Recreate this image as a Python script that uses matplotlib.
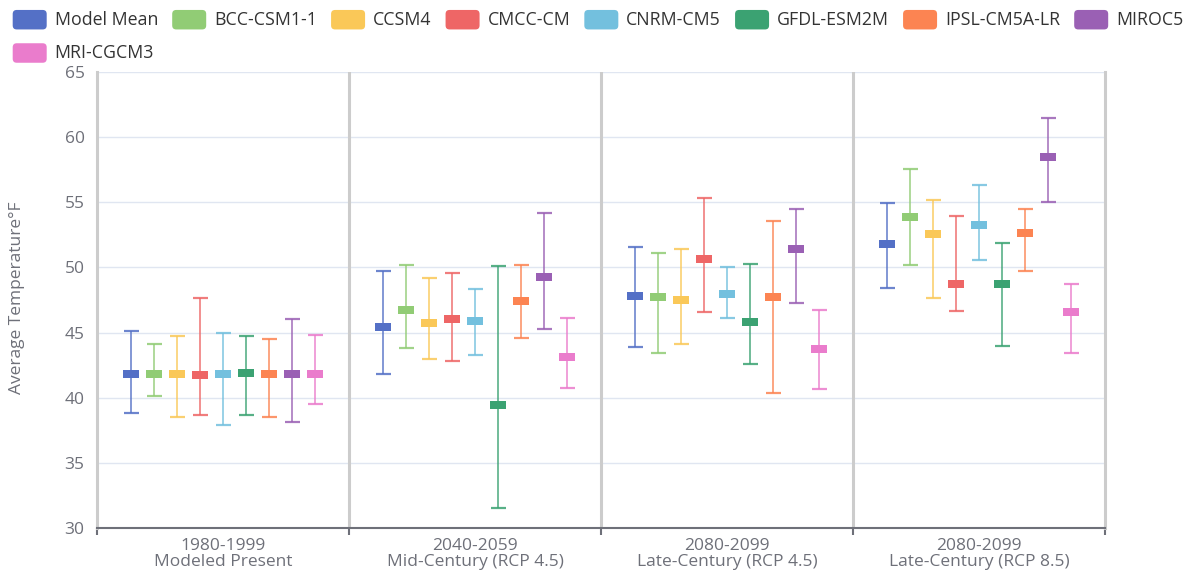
import matplotlib
matplotlib.use("Agg")
import matplotlib.pyplot as plt
import matplotlib.transforms as mtransforms
from matplotlib.patches import FancyBboxPatch
import numpy as np

# ---------------- data ----------------
models = ["Model Mean", "BCC-CSM1-1", "CCSM4", "CMCC-CM", "CNRM-CM5",
          "GFDL-ESM2M", "IPSL-CM5A-LR", "MIROC5", "MRI-CGCM3"]
colors = ["#5470c6", "#91cc75", "#fac858", "#ee6666", "#73c0de",
          "#3ba272", "#fc8452", "#9a60b4", "#ea7ccc"]
periods = ["1980-1999\nModeled Present", "2040-2059\nMid-Century (RCP 4.5)",
           "2080-2099\nLate-Century (RCP 4.5)", "2080-2099\nLate-Century (RCP 8.5)"]

mean_values = [
    [41.85, 45.45, 47.80, 51.80],
    [41.85, 46.75, 47.75, 53.90],
    [41.85, 45.75, 47.50, 52.55],
    [41.75, 46.05, 50.65, 48.70],
    [41.85, 45.90, 47.95, 53.25],
    [41.90, 39.45, 45.80, 48.70],
    [41.85, 47.40, 47.70, 52.65],
    [41.85, 49.25, 51.45, 58.45],
    [41.85, 43.15, 43.75, 46.60],
]
low_values = [
    [38.80, 41.85, 43.90, 48.40],
    [40.10, 43.85, 43.40, 50.15],
    [38.55, 42.95, 44.15, 47.65],
    [38.70, 42.80, 46.55, 46.65],
    [37.90, 43.30, 46.15, 50.55],
    [38.65, 31.55, 42.60, 43.95],
    [38.55, 44.60, 40.40, 49.70],
    [38.15, 45.30, 47.30, 55.05],
    [39.55, 40.75, 40.70, 43.45],
]
high_values = [
    [45.15, 49.75, 51.60, 54.95],
    [44.15, 50.20, 51.10, 57.55],
    [44.75, 49.20, 51.40, 55.20],
    [47.65, 49.60, 55.30, 53.95],
    [44.95, 48.35, 50.00, 56.35],
    [44.70, 50.10, 50.30, 51.85],
    [44.50, 50.20, 53.60, 54.45],
    [46.05, 54.20, 54.50, 61.50],
    [44.80, 46.10, 46.70, 48.70],
]
y_ticks = [30, 35, 40, 45, 50, 55, 60, 65]
y_label = "Average Temperature°F"

# ---------------- style ----------------
W, H = 1202, 578
FONT = ["Open Sans", "DejaVu Sans"]
plt.rcParams["font.family"] = FONT
TXT = "#6e7079"
FS = 12.5

fig = plt.figure(figsize=(W / 100, H / 100), dpi=100)
ax = fig.add_axes([97 / W, 50 / H, 1008 / W, 456 / H])

n = len(models)
step = 23 / 252
rect_marker = [(-1, -0.5), (1, -0.5), (1, 0.5), (-1, 0.5), (-1, -0.5)]
base = np.arange(len(periods))
for i, (name, c) in enumerate(zip(models, colors)):
    m = np.array(mean_values[i])
    lo = np.array(low_values[i])
    hi = np.array(high_values[i])
    x = base + (i - (n - 1) / 2) * step
    ax.errorbar(x, m, yerr=[m - lo, hi - m], fmt="none", ecolor=c,
                elinewidth=1.2, capsize=5.4, capthick=1.6, alpha=0.85, zorder=3)
    ax.plot(x, m, linestyle="none", marker=rect_marker, markersize=11,
            color=c, markeredgewidth=0, zorder=4)

ax.set_xlim(-0.5, len(periods) - 0.5)
ax.set_ylim(y_ticks[0], y_ticks[-1])
ax.set_yticks(y_ticks)
ax.tick_params(axis="y", length=0, pad=9, labelsize=FS, labelcolor=TXT)
ax.grid(axis="y", color="#e0e6f1", linewidth=1, zorder=0)
ax.set_axisbelow(True)

# group separators
for b in np.arange(len(periods) - 1) + 0.5:
    ax.axvline(b, color="#cccccc", linewidth=2.2, zorder=1)

ax.set_xticks(np.arange(len(periods) + 1) - 0.5)
ax.set_xticklabels([])
ax.tick_params(axis="x", which="major", length=5, width=1.5, color=TXT)
ax.set_xticks(base, minor=True)
ax.set_xticklabels(periods, minor=True, fontsize=FS, color=TXT, linespacing=1.0)
ax.tick_params(axis="x", which="minor", length=0, pad=7)

for s in ["left", "right"]:
    ax.spines[s].set_color("#cccccc")
    ax.spines[s].set_linewidth(2.2)
ax.spines["top"].set_visible(False)
ax.spines["bottom"].set_color(TXT)
ax.spines["bottom"].set_linewidth(1.5)

fig.text(17 / W, 1 - 298 / H, y_label, rotation=90, ha="center", va="center",
         fontsize=FS, color=TXT)

# ---------------- legend (manual, two rows) ----------------
renderer = fig.canvas.get_renderer()
ident = mtransforms.IdentityTransform()
rows_y = [19.7, 53.0]
x0 = 12.7
x = x0
row = 0
for i, (name, c) in enumerate(zip(models, colors)):
    if i == 8:
        row = 1
        x = x0
    yc = H - rows_y[row]
    patch = FancyBboxPatch((x, yc - 9.75), 34, 19.5,
                           boxstyle="round,pad=0,rounding_size=4",
                           facecolor=c, edgecolor="none", transform=ident)
    fig.add_artist(patch)
    t = fig.text(x + 42, yc, name, transform=ident, ha="left", va="center",
                 fontsize=12.8, color="#333333")
    w = t.get_window_extent(renderer).width
    x = x + 42 + w + 14

fig.savefig("out.png", dpi=100)
